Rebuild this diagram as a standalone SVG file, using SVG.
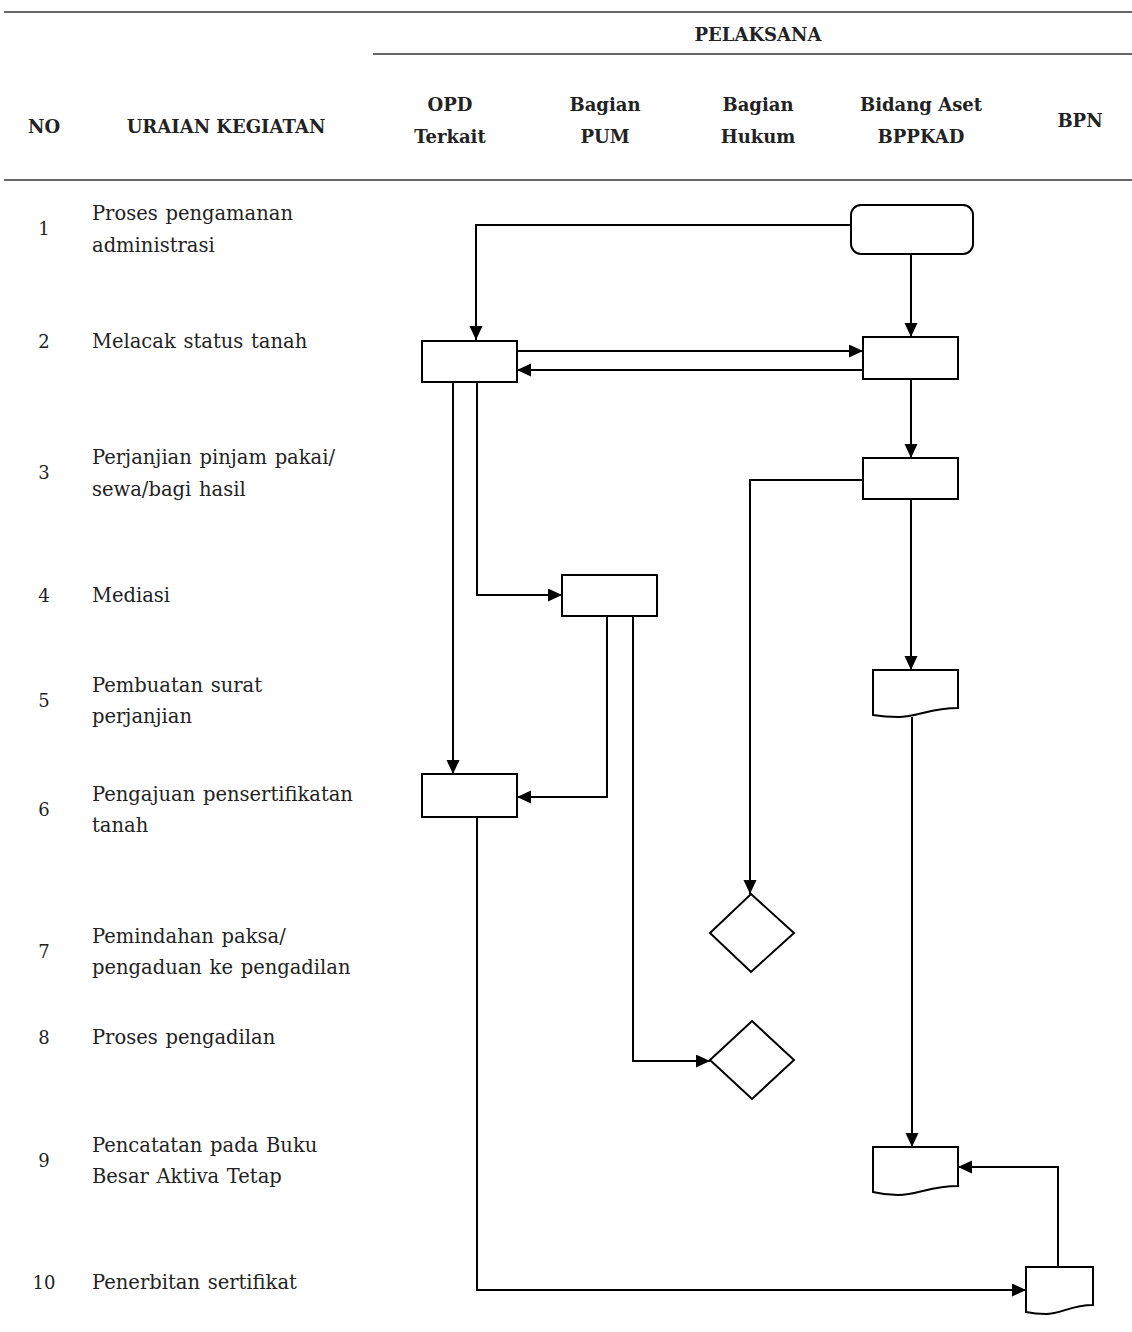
<svg xmlns="http://www.w3.org/2000/svg" width="1132" height="1332" viewBox="0 0 1132 1332">
<defs>
<marker id="arr" markerUnits="userSpaceOnUse" markerWidth="15" markerHeight="14" refX="14" refY="6.5" orient="auto">
<path d="M0,0 L14,6.5 L0,13 Z" fill="#000"/>
</marker>
<style>
.hd{font-family:"DejaVu Serif","Liberation Serif",serif;font-weight:bold;font-size:18px;fill:#222;text-anchor:middle;dominant-baseline:central}
.tx{font-family:"DejaVu Serif","Liberation Serif",serif;font-size:19.5px;word-spacing:1.5px;fill:#222;dominant-baseline:central}
.no{font-family:"DejaVu Serif","Liberation Serif",serif;font-size:18px;fill:#222;text-anchor:middle;dominant-baseline:central}
.rule{stroke:#333;stroke-width:1.5;fill:none}
.shape{fill:#fff;stroke:#000;stroke-width:2}
.conn path{fill:none;stroke:#000;stroke-width:2;marker-end:url(#arr)}
</style>
</defs>
<rect width="1132" height="1332" fill="#fff"/>
<g id="header">
<line class="rule" x1="4" y1="12" x2="1132" y2="12"/>
<line class="rule" x1="373" y1="54" x2="1132" y2="54"/>
<line class="rule" x1="4" y1="180" x2="1132" y2="180"/>
<text class="hd" x="758" y="34">PELAKSANA</text>
<text class="hd" x="44" y="126">NO</text>
<text class="hd" x="226" y="126">URAIAN KEGIATAN</text>
<text class="hd" x="450" y="104">OPD</text>
<text class="hd" x="450" y="136">Terkait</text>
<text class="hd" x="605" y="104">Bagian</text>
<text class="hd" x="605" y="136">PUM</text>
<text class="hd" x="758" y="104">Bagian</text>
<text class="hd" x="758" y="136">Hukum</text>
<text class="hd" x="921" y="104">Bidang Aset</text>
<text class="hd" x="921" y="136">BPPKAD</text>
<text class="hd" x="1080" y="120">BPN</text>
</g>
<g id="rows">
<text class="no" x="44" y="228">1</text>
<text class="tx" x="92" y="213">Proses pengamanan</text>
<text class="tx" x="92" y="245">administrasi</text>
<text class="no" x="44" y="341">2</text>
<text class="tx" x="92" y="341">Melacak status tanah</text>
<text class="no" x="44" y="472">3</text>
<text class="tx" x="92" y="457">Perjanjian pinjam pakai/</text>
<text class="tx" x="92" y="489">sewa/bagi hasil</text>
<text class="no" x="44" y="595">4</text>
<text class="tx" x="92" y="595">Mediasi</text>
<text class="no" x="44" y="700">5</text>
<text class="tx" x="92" y="685">Pembuatan surat</text>
<text class="tx" x="92" y="716">perjanjian</text>
<text class="no" x="44" y="809">6</text>
<text class="tx" x="92" y="794">Pengajuan pensertifikatan</text>
<text class="tx" x="92" y="825">tanah</text>
<text class="no" x="44" y="951">7</text>
<text class="tx" x="92" y="936">Pemindahan paksa/</text>
<text class="tx" x="92" y="967">pengaduan ke pengadilan</text>
<text class="no" x="44" y="1037">8</text>
<text class="tx" x="92" y="1037">Proses pengadilan</text>
<text class="no" x="44" y="1160">9</text>
<text class="tx" x="92" y="1145">Pencatatan pada Buku</text>
<text class="tx" x="92" y="1176">Besar Aktiva Tetap</text>
<text class="no" x="44" y="1282">10</text>
<text class="tx" x="92" y="1282">Penerbitan sertifikat</text>
</g>
<g id="start1"><rect class="shape" x="851" y="205" width="122" height="49" rx="10"/></g>
<g id="opd2"><rect class="shape" x="422" y="341" width="95" height="41"/></g>
<g id="bidang2"><rect class="shape" x="863" y="337" width="95" height="42"/></g>
<g id="bidang3"><rect class="shape" x="863" y="458" width="95" height="41"/></g>
<g id="pum4"><rect class="shape" x="562" y="575" width="95" height="41"/></g>
<g id="doc5"><path class="shape" d="M873,670 H958 V708 C930,708 918,717 898,717 Q885,717 873,715 Z"/></g>
<g id="opd6"><rect class="shape" x="422" y="774" width="95" height="43"/></g>
<g id="diamond7"><path class="shape" d="M751,894 L794,933 L751,972 L710,933 Z"/></g>
<g id="diamond8"><path class="shape" d="M752,1021 L794,1060 L752,1099 L710,1060 Z"/></g>
<g id="doc9"><path class="shape" d="M873,1147 H958 V1186 C930,1186 918,1195 898,1195 Q885,1195 873,1192 Z"/></g>
<g id="doc10"><path class="shape" d="M1026,1267 H1093 V1305 C1071,1305 1061,1314 1046,1314 Q1035,1314 1026,1312 Z"/></g>
<g id="connectors" class="conn">
<path d="M851,225 H476 V340"/>
<path d="M911,254 V337"/>
<path d="M517,351 H863"/>
<path d="M863,370 H517"/>
<path d="M453,382 V774"/>
<path d="M477,382 V595 H562"/>
<path d="M911,379 V458"/>
<path d="M863,480 H750 V894"/>
<path d="M911,499 V670"/>
<path d="M607,616 V797 H517"/>
<path d="M633,616 V1061 H710"/>
<path d="M912,717 V1147"/>
<path d="M477,817 V1290 H1026"/>
<path d="M1058,1267 V1167 H958"/>
</g>
</svg>
